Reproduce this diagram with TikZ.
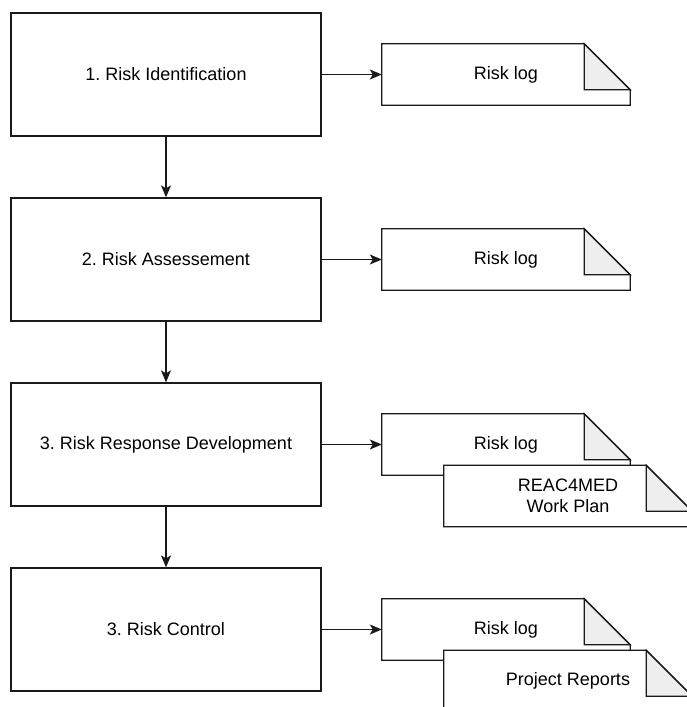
\documentclass[tikz,border=0pt]{standalone}
\usepackage{fontspec}
\setmainfont{Liberation Sans}
\frenchspacing
\usetikzlibrary{arrows.meta}
\pgfdeclarelayer{background}
\pgfsetlayers{background,main}
\definecolor{foldgray}{HTML}{EEEEEE}
\definecolor{linegray}{HTML}{1A1A1A}
\tikzset{
  stepbox/.style={draw=linegray, line width=1.3pt, fill=white, minimum width=310pt, minimum height=123pt, inner sep=0pt, font=\fontsize{18}{21.5}\selectfont},
  docnode/.style={minimum width=248pt, minimum height=61pt, inner sep=0pt, align=center, font=\fontsize{18}{21.5}\selectfont},
  docline/.style={draw=linegray, line width=1.3pt, line join=miter},
  conn/.style={draw=linegray, line width=1.3pt, -{Stealth[length=12pt,width=10pt,inset=3pt]}}
}
\newcommand{\docshape}[1]{%
  \begin{pgfonlayer}{background}
    \path[docline, fill=white] (#1.north west) -- ([xshift=-46pt]#1.north east) -- ([yshift=-46pt]#1.north east) -- (#1.south east) -- (#1.south west) -- cycle;
    \path[docline, fill=foldgray] ([xshift=-46pt]#1.north east) -- ([xshift=-46pt,yshift=-46pt]#1.north east) -- ([yshift=-46pt]#1.north east) -- cycle;
  \end{pgfonlayer}}
\begin{document}
\begin{tikzpicture}[x=1pt, y=-1pt]
\useasboundingbox (0,0) rectangle (686,707);
\node[stepbox] (s1) at (166,74.5) {1. Risk Identification};
\node[stepbox] (s2) at (166,259.5) {2. Risk Assessement};
\node[stepbox] (s3) at (166,444.5) {3. Risk Response Development};
\node[stepbox] (s4) at (166,629.5) {3. Risk Control};

\node[docnode] (d1) at (506,74.5) {Risk log};
\docshape{d1}
\node[docnode] (d2) at (506,259.5) {Risk log};
\docshape{d2}
\node[docnode] (d3a) at (506,444.5) {Risk log};
\docshape{d3a}
\node[docnode] (d3b) at (568,496) {REAC4MED\\Work Plan};
\docshape{d3b}
\node[docnode] (d4a) at (506,629.5) {Risk log};
\docshape{d4a}
\node[docnode] (d4b) at (568,681) {Project Reports};
\docshape{d4b}

\draw[conn] (s1) -- (s2);
\draw[conn] (s2) -- (s3);
\draw[conn] (s3) -- (s4);
\draw[conn] (s1.east) -- (s1.east -| d1.west);
\draw[conn] (s2.east) -- (s2.east -| d2.west);
\draw[conn] (s3.east) -- (s3.east -| d3a.west);
\draw[conn] (s4.east) -- (s4.east -| d4a.west);
\end{tikzpicture}
\end{document}
